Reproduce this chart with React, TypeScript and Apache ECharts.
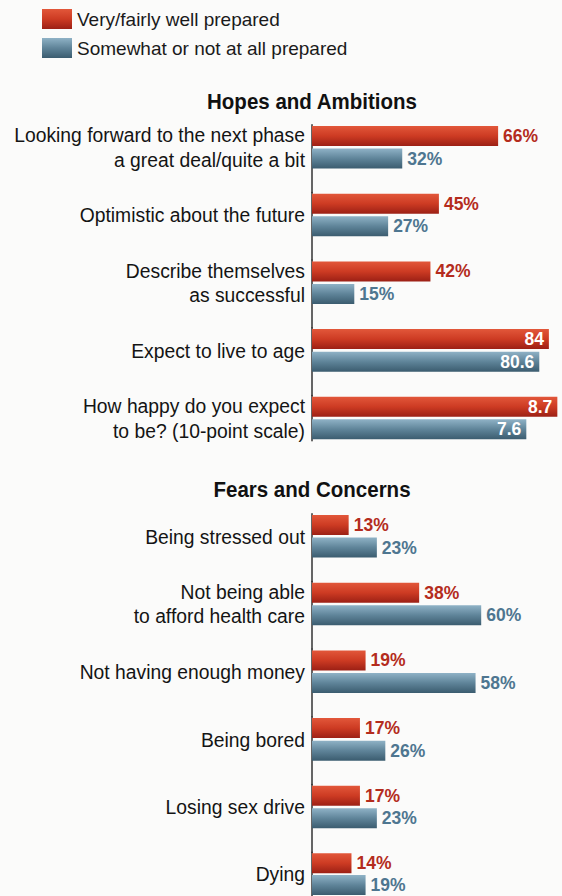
import React, { useEffect, useRef } from "react";
import * as echarts from "echarts";

// ---- data ----
const legendWell = "Very/fairly well prepared";
const legendSome = "Somewhat or not at all prepared";

const hopesTitle = "Hopes and Ambitions";
const hopeLabels = [
  "Looking forward to the next phase\na great deal/quite a bit",
  "Optimistic about the future",
  "Describe themselves\nas successful",
  "Expect to live to age",
  "How happy do you expect\nto be? (10-point scale)",
];
const hopeWell = [66, 45, 42, 84, 8.7];
const hopeSome = [32, 27, 15, 80.6, 7.6];
const hopeUnits = ["%", "%", "%", "", ""];
const hopeAxisDivisor = [1, 1, 1, 1, 10];

const fearsTitle = "Fears and Concerns";
const fearLabels = [
  "Being stressed out",
  "Not being able\nto afford health care",
  "Not having enough money",
  "Being bored",
  "Losing sex drive",
  "Dying",
];
const fearWell = [13, 38, 19, 17, 17, 14];
const fearSome = [23, 60, 58, 26, 23, 19];
const fearUnits = ["%", "%", "%", "%", "%", "%"];
const fearAxisDivisor = [1, 1, 1, 1, 1, 1];

// ---- layout / style ----
const W = 562;
const H = 896;
const AXIS_X = 312;
const GRID_W = 250;
const PX_PER_UNIT = 2.82;
const STEP = 67.7;
const BAND = STEP / 3;
const FONT = "'Liberation Sans', Arial, sans-serif";

const redGrad = new echarts.graphic.LinearGradient(0, 0, 0, 1, [
  { offset: 0, color: "#e2573a" },
  { offset: 0.5, color: "#cd3b23" },
  { offset: 1, color: "#9c2015" },
]);
const blueGrad = new echarts.graphic.LinearGradient(0, 0, 0, 1, [
  { offset: 0, color: "#8fb2c6" },
  { offset: 0.5, color: "#5f8499" },
  { offset: 1, color: "#3b5c6f" },
]);
const RED_TEXT = "#b42c1d";
const BLUE_TEXT = "#4e7690";

function buildOption() {
  const grids: any[] = [];
  const xAxes: any[] = [];
  const yAxes: any[] = [];
  const series: any[] = [];
  const graphics: any[] = [];

  const sections = [
    { title: hopesTitle, titleY: 102, top: 124.7, labels: hopeLabels, well: hopeWell, some: hopeSome, units: hopeUnits, div: hopeAxisDivisor },
    { title: fearsTitle, titleY: 490, top: 513.7, labels: fearLabels, well: fearWell, some: fearSome, units: fearUnits, div: fearAxisDivisor },
  ];

  sections.forEach((sec) => {
    graphics.push({
      type: "text",
      x: AXIS_X,
      y: sec.titleY,
      scaleX: 0.92,
      style: {
        text: sec.title,
        font: `bold 22.3px ${FONT}`,
        fill: "#111",
        textAlign: "center",
        textVerticalAlign: "middle",
      },
    });
    sec.labels.forEach((lab, i) => {
      const idx = grids.length;
      const top = sec.top + i * STEP;
      const isLast = i === sec.labels.length - 1;
      const gh = isLast ? Math.min(BAND * 2, H - top) : STEP;
      grids.push({ left: AXIS_X, top, width: GRID_W, height: gh });
      xAxes.push({
        type: "value",
        gridIndex: idx,
        min: 0,
        max: GRID_W / PX_PER_UNIT / sec.div[i],
        show: false,
      });
      yAxes.push({
        type: "category",
        gridIndex: idx,
        inverse: true,
        data: isLast ? ["a", "b"] : ["a", "b", "c"],
        axisLine: { show: true, lineStyle: { color: "#333", width: 1.5 } },
        axisTick: { show: false },
        axisLabel: { show: false },
        splitLine: { show: false },
      });
      const unit = sec.units[i];
      const inside = unit === "";
      const mk = (name: string, val: number, pos: number, color: any, txt: string) => {
        const data: any[] = isLast ? [null, null] : [null, null, null];
        data[pos] = val;
        series.push({
          type: "bar",
          name,
          xAxisIndex: idx,
          yAxisIndex: idx,
          data,
          barWidth: 20,
          barGap: "-100%",
          itemStyle: { color },
          label: {
            show: true,
            position: inside ? "insideRight" : "right",
            distance: 5,
            formatter: (p: any) => `${p.value}${unit}`,
            fontFamily: FONT,
            fontWeight: "bold",
            fontSize: 17.5,
            color: inside ? "#ffffff" : txt,
          },
        });
      };
      mk(legendWell, sec.well[i], 0, redGrad, RED_TEXT);
      mk(legendSome, sec.some[i], 1, blueGrad, BLUE_TEXT);

      graphics.push({
        type: "text",
        x: AXIS_X - 7,
        y: top + (isLast ? gh / 2 : BAND),
        scaleX: 0.92,
        style: {
          text: lab,
          font: `21px ${FONT}`,
          lineHeight: 24.5,
          fill: "#141414",
          textAlign: "right",
          textVerticalAlign: "middle",
        },
      });
    });
  });

  return {
    animation: false,
    backgroundColor: "#fbfbfa",
    legend: {
      data: [legendWell, legendSome],
      orient: "vertical",
      left: 42,
      top: 9,
      padding: 0,
      itemWidth: 30,
      itemHeight: 20,
      itemGap: 9,
      icon: "rect",
      selectedMode: false,
      textStyle: { fontFamily: FONT, fontSize: 19, color: "#1a1a1a", lineHeight: 20 },
    },
    grid: grids,
    xAxis: xAxes,
    yAxis: yAxes,
    series,
    graphic: graphics,
  };
}

export default function App() {
  const ref = useRef<HTMLDivElement>(null);
  useEffect(() => {
    document.body.style.margin = "0";
    const chart = echarts.init(ref.current!, null, { renderer: "svg" });
    chart.setOption(buildOption() as any);
    return () => chart.dispose();
  }, []);
  return <div ref={ref} style={{ width: W, height: H }} />;
}
